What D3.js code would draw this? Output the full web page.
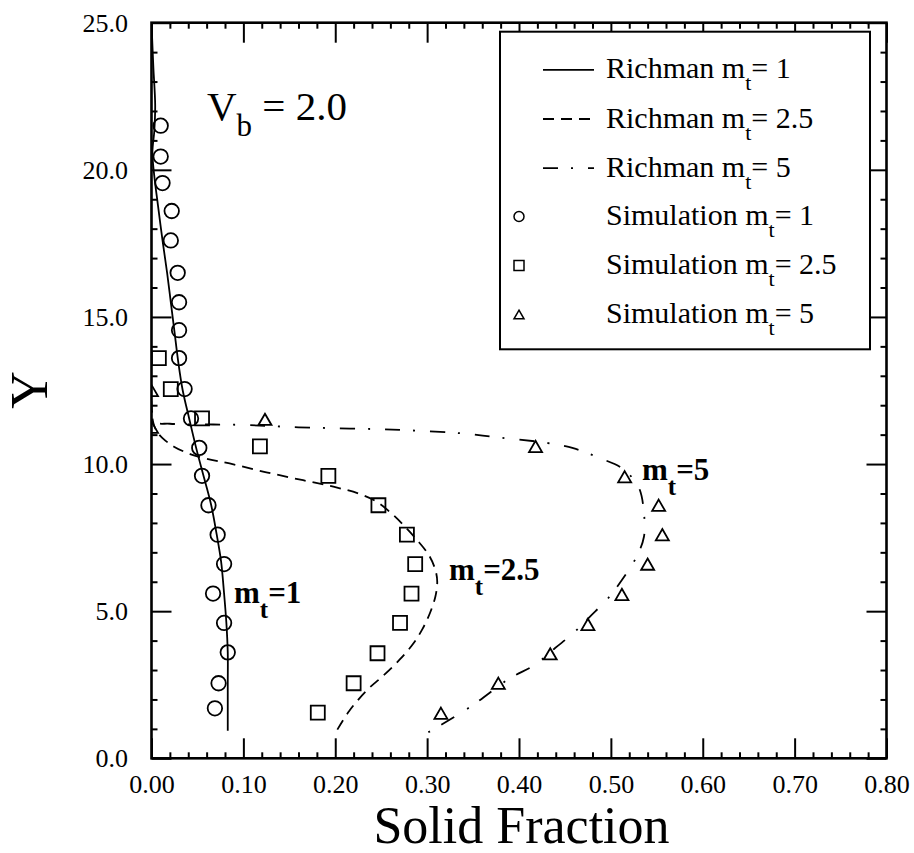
<!DOCTYPE html>
<html>
<head>
<meta charset="utf-8">
<script src="https://cdn.jsdelivr.net/npm/d3@7"></script>
<style>
  html, body { margin: 0; padding: 0; background: #fff; }
  svg { display: block; }
  svg text, svg tspan { font-family: "Liberation Serif", Tinos, "Times New Roman", Times, serif !important; }
</style>
</head>
<body>
<svg id="chart" width="914" height="853"></svg>
<script>
// Axis ticks
const xMajor = [0, 0.1, 0.2, 0.3, 0.4, 0.5, 0.6, 0.7, 0.8];
const yMajor = [0, 5, 10, 15, 20, 25];

// Richman theory curves: [solid fraction, Y]
const richM1 = [[0.000,25.0],[0.002,23.5],[0.004,22.2],[0.003,21.3],[0.001,20.6],[0.003,19.8],[0.007,18.8],
  [0.012,17.6],[0.017,16.5],[0.021,15.5],[0.025,14.5],[0.029,13.5],[0.034,12.5],[0.041,11.55],[0.049,10.5],
  [0.0575,9.5],[0.065,8.6],[0.071,7.6],[0.0757,6.7],[0.079,5.6],[0.0815,4.6],[0.083,3.6],[0.083,2.5],[0.083,0.94]];
const richM25 = [[0.000,25.0],[0.000,12.0],[0.002,11.4],[0.006,11.1],[0.012,10.88],[0.024,10.6],[0.042,10.34],
  [0.060,10.18],[0.085,10.02],[0.125,9.72],[0.165,9.45],[0.198,9.23],[0.225,9.0],[0.245,8.72],[0.262,8.3],
  [0.275,7.9],[0.289,7.42],[0.302,6.9],[0.309,6.4],[0.311,6.0],[0.309,5.5],[0.303,4.93],[0.295,4.4],
  [0.285,3.9],[0.270,3.35],[0.252,2.8],[0.234,2.3],[0.215,1.6],[0.202,0.96]];
const richM5 = [[0.000,25.0],[0.000,11.9],[0.005,11.42],[0.020,11.37],[0.100,11.33],[0.160,11.25],[0.270,11.16],
  [0.335,11.05],[0.379,10.9],[0.430,10.72],[0.459,10.54],[0.488,10.2],[0.512,9.86],[0.530,9.23],[0.536,8.33],
  [0.536,7.53],[0.528,6.85],[0.512,6.06],[0.497,5.44],[0.477,4.81],[0.459,4.25],[0.439,3.74],[0.417,3.17],
  [0.390,2.72],[0.347,1.75],[0.2995,0.85]];

// Simulation results: [solid fraction, Y]
const simM1 = [[0.010,21.5],[0.010,20.45],[0.012,19.55],[0.022,18.6],[0.021,17.6],[0.0285,16.5],[0.030,15.5],
  [0.030,14.55],[0.030,13.6],[0.036,12.55],[0.043,11.55],[0.052,10.55],[0.055,9.6],[0.062,8.6],[0.072,7.6],
  [0.079,6.6],[0.067,5.6],[0.079,4.6],[0.083,3.6],[0.073,2.55],[0.069,1.7]];
const simM25 = [[0.008,13.6],[0.021,12.55],[0.055,11.55],[0.118,10.6],[0.1925,9.6],[0.247,8.6],[0.278,7.6],
  [0.287,6.6],[0.283,5.6],[0.2705,4.6],[0.246,3.57],[0.220,2.55],[0.181,1.55]];
const simM5 = [[0.000,12.5],[0.000,11.25],[0.1235,11.52],[0.418,10.6],[0.515,9.57],[0.552,8.6],[0.556,7.6],
  [0.540,6.6],[0.512,5.57],[0.475,4.55],[0.434,3.55],[0.3775,2.55],[0.315,1.53]];

// Legend entries
const legendLines = [
  { name: "Richman", mt: "1", dash: null },
  { name: "Richman", mt: "2.5", dash: "11,7" },
  { name: "Richman", mt: "5", dash: "15,13,2,15" }
];
const legendMarkers = [
  { name: "Simulation", mt: "1", shape: "circle" },
  { name: "Simulation", mt: "2.5", shape: "square" },
  { name: "Simulation", mt: "5", shape: "triangle" }
];

(function draw() {
  const FONT = "Liberation Serif";
  const svg = d3.select("#chart").attr("font-family", FONT);
  const pLeft = 151.5, pRight = 886.5, pTop = 22.7, pBottom = 758.3;
  const x = d3.scaleLinear().domain([0, 0.8]).range([pLeft, pRight]);
  const y = d3.scaleLinear().domain([0, 25]).range([pBottom, pTop]);

  const xMinor = d3.range(0, 0.8001, 0.02).filter(v => Math.abs(v * 10 - Math.round(v * 10)) > 1e-6);
  const yMinor = d3.range(0, 25.001, 1).filter(v => v % 5 !== 0);

  svg.append("rect").attr("width", 914).attr("height", 853).attr("fill", "#fff");

  svg.append("clipPath").attr("id", "plotClip")
    .append("rect").attr("x", pLeft).attr("y", pTop).attr("width", pRight - pLeft).attr("height", pBottom - pTop);

  function styleAxis(g) {
    g.select(".domain").remove();
    g.attr("font-family", FONT).attr("font-size", 26);
    g.selectAll(".tick line").attr("stroke", "#000").attr("stroke-width", 2);
    g.selectAll(".tick text").attr("fill", "#000").attr("font-family", FONT).attr("font-size", 26);
  }

  // Bottom axis
  svg.append("g").attr("transform", `translate(0,${pBottom})`)
    .call(d3.axisBottom(x).tickValues(xMajor).tickSize(-20).tickPadding(16).tickFormat(d3.format(".2f")))
    .call(styleAxis);
  svg.append("g").attr("transform", `translate(0,${pBottom})`)
    .call(d3.axisBottom(x).tickValues(xMinor).tickSize(-6).tickFormat(""))
    .call(styleAxis);
  // Top axis
  svg.append("g").attr("transform", `translate(0,${pTop})`)
    .call(d3.axisTop(x).tickValues(xMajor).tickSize(-20).tickFormat(""))
    .call(styleAxis);
  svg.append("g").attr("transform", `translate(0,${pTop})`)
    .call(d3.axisTop(x).tickValues(xMinor).tickSize(-6).tickFormat(""))
    .call(styleAxis);
  // Left axis
  svg.append("g").attr("transform", `translate(${pLeft},0)`)
    .call(d3.axisLeft(y).tickValues(yMajor).tickSize(-20).tickPadding(23.5).tickFormat(d3.format(".1f")))
    .call(styleAxis);
  svg.append("g").attr("transform", `translate(${pLeft},0)`)
    .call(d3.axisLeft(y).tickValues(yMinor).tickSize(-6).tickFormat(""))
    .call(styleAxis);
  // Right axis
  svg.append("g").attr("transform", `translate(${pRight},0)`)
    .call(d3.axisRight(y).tickValues(yMajor).tickSize(-20).tickFormat(""))
    .call(styleAxis);
  svg.append("g").attr("transform", `translate(${pRight},0)`)
    .call(d3.axisRight(y).tickValues(yMinor).tickSize(-6).tickFormat(""))
    .call(styleAxis);

  // Curves
  const plot = svg.append("g").attr("clip-path", "url(#plotClip)");
  const line = d3.line().x(d => x(d[0])).y(d => y(d[1])).curve(d3.curveCatmullRom.alpha(0.5));
  [[richM1, null], [richM25, "11,7"], [richM5, "15,13,2,15"]].forEach(([data, dash]) => {
    plot.append("path").datum(data).attr("d", line)
      .attr("fill", "none").attr("stroke", "#000").attr("stroke-width", 1.8)
      .attr("stroke-dasharray", dash);
  });

  // Marker outlines
  function markerPath(shape, s) {
    if (shape === "circle") {
      const p = d3.path(); p.arc(0, 0, s / 2, 0, 2 * Math.PI); return p.toString();
    }
    if (shape === "square") {
      const h = s / 2; return `M${-h},${-h}H${h}V${h}H${-h}Z`;
    }
    const h = s * Math.sqrt(3) / 2;
    return `M0,${-h / 2}L${s / 2},${h / 2}L${-s / 2},${h / 2}Z`;
  }
  [[simM1, "circle", 14.5], [simM25, "square", 14], [simM5, "triangle", 13]].forEach(([data, shape, size]) => {
    plot.selectAll(null).data(data).enter().append("path")
      .attr("d", markerPath(shape, size))
      .attr("transform", d => `translate(${x(d[0])},${y(d[1])})`)
      .attr("fill", "none").attr("stroke", "#000").attr("stroke-width", 1.8);
  });

  // Frame
  svg.append("rect").attr("x", pLeft).attr("y", pTop).attr("width", pRight - pLeft).attr("height", pBottom - pTop)
    .attr("fill", "none").attr("stroke", "#000").attr("stroke-width", 2.6);

  // Axis titles
  svg.append("text").attr("x", 521.5).attr("y", 843).attr("text-anchor", "middle")
    .attr("font-family", FONT).attr("font-size", 52).text("Solid Fraction");
  svg.append("text").attr("transform", "translate(47,390) rotate(-90)").attr("text-anchor", "middle")
    .attr("font-family", FONT).attr("font-size", 52).text("Y");

  // Label with subscript t
  function mtLabel(g, px, py, prefix, val, size, subSize, shift, gap) {
    const t = g.append("text").attr("x", px).attr("y", py)
      .attr("font-family", FONT).attr("font-size", size);
    t.append("tspan").text(prefix + "m");
    t.append("tspan").attr("dy", shift).attr("font-size", subSize).text("t");
    t.append("tspan").attr("dy", -shift).text("=" + gap + val);
    return t;
  }

  // V_b annotation
  const vb = svg.append("text").attr("x", 207).attr("y", 120)
    .attr("font-family", FONT).attr("font-size", 41);
  vb.append("tspan").text("V");
  vb.append("tspan").attr("dy", 16).attr("font-size", 31).text("b");
  vb.append("tspan").attr("dy", -16).text(" = 2.0");

  // Curve annotations
  const ann = svg.append("g").attr("font-weight", "bold");
  mtLabel(ann, 234, 603, "", "1", 31, 25, 15, "");
  mtLabel(ann, 449, 580, "", "2.5", 31, 25, 15, "");
  mtLabel(ann, 642, 480, "", "5", 31, 25, 15, "");

  // Legend
  const lg = svg.append("g");
  lg.append("rect").attr("x", 500).attr("y", 31.7).attr("width", 370).attr("height", 317.6)
    .attr("fill", "#fff").attr("stroke", "#000").attr("stroke-width", 2);
  const rowBase = [78.3, 127.5, 176.7, 225, 274, 323];
  legendLines.forEach((d, i) => {
    lg.append("line").attr("x1", 543).attr("x2", 594)
      .attr("y1", rowBase[i] - 8.5).attr("y2", rowBase[i] - 8.5)
      .attr("stroke", "#000").attr("stroke-width", 1.8).attr("stroke-dasharray", d.dash);
    mtLabel(lg, 606, rowBase[i], d.name + " ", d.mt, 30, 22, 12, " ");
  });
  legendMarkers.forEach((d, i) => {
    const r = i + 3;
    lg.append("path").attr("d", markerPath(d.shape, 10))
      .attr("transform", `translate(519,${rowBase[r] - 8.5})`)
      .attr("fill", "none").attr("stroke", "#000").attr("stroke-width", 1.5);
    mtLabel(lg, 606, rowBase[r], d.name + " ", d.mt, 30, 22, 12, " ");
  });
})();
</script>
</body>
</html>
